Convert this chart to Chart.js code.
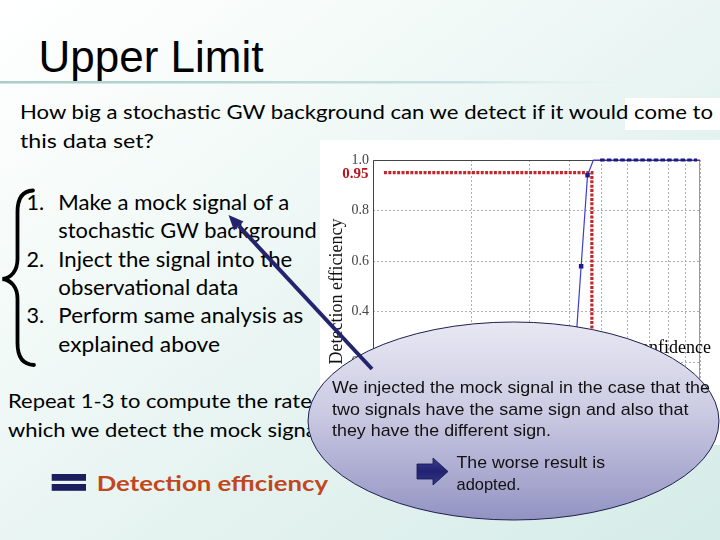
<!DOCTYPE html>
<html><head><meta charset="utf-8">
<script src="https://cdn.jsdelivr.net/npm/chart.js@4.4.1/dist/chart.umd.min.js"></script>
<style>
html,body{margin:0;padding:0;background:#fff;}
#slide{position:relative;width:720px;height:540px;overflow:hidden;}
#slide svg{position:absolute;left:0;top:0;}
#panel{position:absolute;left:320px;top:140px;width:400px;height:305px;background:#fff;}
#panel canvas{display:block;}
</style></head>
<body>
<div id="slide">
<svg id="bg" width="720" height="540">
 <defs>
  <linearGradient id="bgG" x1="0" y1="0" x2="1" y2="1">
   <stop offset="0" stop-color="#ffffff"/>
   <stop offset="0.3" stop-color="#f3faf8"/>
   <stop offset="0.65" stop-color="#e3f2ef"/>
   <stop offset="1" stop-color="#d5ece8"/>
  </linearGradient>
  <linearGradient id="ruleG" x1="0" y1="0" x2="1" y2="0">
   <stop offset="0" stop-color="#a9cdc9"/>
   <stop offset="0.75" stop-color="#c6e1dd"/>
   <stop offset="1" stop-color="#e0f0ed" stop-opacity="0.2"/>
  </linearGradient>
 </defs>
 <rect width="720" height="540" fill="url(#bgG)"/>
 <text x="38.5" y="71.5" font-family="'Liberation Sans',Arial,sans-serif" font-size="44" fill="#000">Upper Limit</text>
 <rect x="0" y="81" width="615" height="2.5" fill="url(#ruleG)"/>
 <rect x="625" y="98" width="95" height="32" fill="#fff"/>
 <g font-family="Lato,'Open Sans',sans-serif" fill="#000">
  <text x="20" y="118.7" font-size="18.5" textLength="693" lengthAdjust="spacingAndGlyphs">How big a stochastic GW background can we detect if it would come to</text>
  <text x="20" y="148" font-size="18.5" textLength="134" lengthAdjust="spacingAndGlyphs">this data set?</text>

  <text x="26.5" y="210" font-size="21.6">1.</text>
  <text x="58.3" y="210" font-size="21.6" textLength="231" lengthAdjust="spacingAndGlyphs">Make a mock signal of a</text>
  <text x="58.3" y="238.3" font-size="21.6" textLength="258.4" lengthAdjust="spacingAndGlyphs">stochastic GW background</text>
  <text x="26.5" y="266.7" font-size="21.6">2.</text>
  <text x="58.3" y="266.7" font-size="21.6" textLength="234" lengthAdjust="spacingAndGlyphs">Inject the signal into the</text>
  <text x="58.3" y="295" font-size="21.6" textLength="180" lengthAdjust="spacingAndGlyphs">observational data</text>
  <text x="26.5" y="323.3" font-size="21.6">3.</text>
  <text x="58.3" y="323.3" font-size="21.6" textLength="245" lengthAdjust="spacingAndGlyphs">Perform same analysis as</text>
  <text x="58.3" y="351.7" font-size="21.6" textLength="161.7" lengthAdjust="spacingAndGlyphs">explained above</text>

  <g id="repeatG">
   <text id="repeat1" x="0" y="408" font-size="18.8">Repeat 1-3 to compute the rate at</text>
   <text id="repeat2" x="0" y="437" font-size="18.8">which we detect the mock signal.</text>
  </g>
  <text x="96.7" y="490.7" font-size="20.8" font-weight="bold" fill="#c2461e" textLength="231.3" lengthAdjust="spacingAndGlyphs">Detection efficiency</text>
 </g>
 <path d="M 33 190.5 C 22 191, 17.5 199, 17.5 212 L 17.5 259 C 17.5 271, 11 278, 2.5 279 C 11 280, 17.5 287, 17.5 299 L 17.5 343 C 17.5 356, 22 364.5, 34 365" fill="none" stroke="#000" stroke-width="3.8" stroke-linecap="round"/>
 <rect x="51.7" y="474" width="34.3" height="6.8" fill="#1c1f5e"/>
 <rect x="51.7" y="484" width="34.3" height="6.8" fill="#1c1f5e"/>
</svg>

<div id="panel"><canvas id="c" width="400" height="305" style="width:400px;height:305px"></canvas></div>

<svg id="fg" width="720" height="540">
 <defs>
  <linearGradient id="ellG" x1="0" y1="0" x2="0" y2="1">
   <stop offset="0" stop-color="#e8e8f3"/>
   <stop offset="0.45" stop-color="#cbcbe3"/>
   <stop offset="1" stop-color="#9393c3"/>
  </linearGradient>
  <linearGradient id="blkG" x1="0" y1="0" x2="0" y2="1">
   <stop offset="0" stop-color="#3a3a96"/>
   <stop offset="0.5" stop-color="#222270"/>
   <stop offset="1" stop-color="#35358e"/>
  </linearGradient>
 </defs>
 <text x="711" y="353.3" text-anchor="end" font-family="'Liberation Serif',serif" font-size="18" fill="#000">95% confidence</text>
 <ellipse cx="513.5" cy="421" rx="205.5" ry="99" fill="url(#ellG)" stroke="#1e1e50" stroke-width="1"/>
 <line x1="372" y1="369" x2="238.8" y2="225.9" stroke="#24246e" stroke-width="4"/>
 <polygon points="228.5,215 243.5,221.5 234,230.4" fill="#24246e"/>
 <g font-family="'Liberation Sans',Arial,sans-serif" font-size="17" fill="#111">
  <text x="332" y="392.6" textLength="378" lengthAdjust="spacingAndGlyphs">We injected the mock signal in the case that the</text>
  <text x="332" y="414.6" textLength="356.5" lengthAdjust="spacingAndGlyphs">two signals have the same sign and also that</text>
  <text x="332" y="435.5" textLength="219" lengthAdjust="spacingAndGlyphs">they have the different sign.</text>
  <text x="456.5" y="468.3" textLength="148.5" lengthAdjust="spacingAndGlyphs">The worse result is</text>
  <text x="456.5" y="490" textLength="64" lengthAdjust="spacingAndGlyphs">adopted.</text>
 </g>
 <polygon points="417,464 433,464 433,458 448,471.5 433,485 433,479 417,479" fill="url(#blkG)" stroke="#15154a" stroke-width="0.8"/>
</svg>
</div>

<script>
// ---- data ----
const amplitude  = [1.0, 1.5, 2.0, 2.5, 3.0, 3.5, 3.9, 4.13, 4.33, 4.53, 4.72, 5.0, 6.0, 7.0, 8.0, 9.0, 10.0];
const efficiency = [0.0, 0.0, 0.0, 0.0, 0.0, 0.01, 0.05, 0.20, 0.58, 0.94, 1.0, 1.0, 1.0, 1.0, 1.0, 1.0, 1.0];
const limitAmp   = [1.08, 4.67, 4.67];
const limitEff   = [0.95, 0.95, 0.0];
const plateauAmp = [4.95, 9.8];
const plateauEff = [1.0, 1.0];
const xTicks = [1, 2, 3, 4, 5, 6, 7, 8, 9, 10];
const yTicks = [0.0, 0.2, 0.4, 0.6, 0.8, 1.0];
const confidenceLevel = 0.95;
const yTitle = 'Detection efficiency';

// fit the "Repeat" lines (partly hidden behind the ellipse)
(function(){
  const g = document.getElementById('repeatG');
  const probe = document.createElementNS('http://www.w3.org/2000/svg','text');
  probe.setAttribute('font-size','18.8');
  probe.textContent = 'Repeat 1-3 to compute the rate';
  g.appendChild(probe);
  const w = probe.getComputedTextLength();
  g.removeChild(probe);
  const k = w > 0 ? 303.7 / w : 1;
  g.setAttribute('transform', 'translate(8,0) scale(' + k + ',1)');
})();

const zip = (a, b) => a.map((x, i) => ({x: x, y: b[i]}));

const deco = {
  id: 'deco',
  beforeDatasetsDraw(chart) {
    const {ctx, chartArea: a} = chart;
    ctx.save();
    ctx.lineWidth = 1;
    ctx.strokeStyle = '#9a9a9a';
    ctx.beginPath();
    ctx.moveTo(a.right - 0.5, a.top); ctx.lineTo(a.right - 0.5, a.bottom - 0.5); ctx.lineTo(a.left, a.bottom - 0.5);
    ctx.stroke();
    ctx.strokeStyle = '#444';
    ctx.beginPath();
    ctx.moveTo(a.left + 0.5, a.bottom); ctx.lineTo(a.left + 0.5, a.top + 0.5); ctx.lineTo(a.right, a.top + 0.5);
    ctx.stroke();
    ctx.restore();
  },
  afterDraw(chart) {
    const {ctx, chartArea: a, scales} = chart;
    ctx.save();
    ctx.fillStyle = '#b8161c';
    ctx.font = 'bold 15px "Liberation Serif", serif';
    ctx.textAlign = 'right';
    ctx.textBaseline = 'middle';
    ctx.fillText(confidenceLevel.toFixed(2), a.left - 4.5, scales.y.getPixelForValue(confidenceLevel) + 1);
    // axis title
    ctx.fillStyle = '#111';
    ctx.font = '18px "Liberation Serif", serif';
    ctx.textAlign = 'center';
    ctx.translate(a.left - 36, (a.top + a.bottom) / 2 + 5);
    ctx.rotate(-Math.PI / 2);
    ctx.fillText(yTitle, 0, 0);
    ctx.restore();
  }
};

const gridOpts = {color: '#b0b0b0', lineWidth: 1, drawTicks: false};

new Chart(document.getElementById('c'), {
  type: 'line',
  data: {
    datasets: [
      {label: '95% upper limit', data: zip(limitAmp, limitEff), borderColor: '#c1272d', borderWidth: 3.2,
       borderDash: [3, 1.4], pointRadius: 0, fill: false, tension: 0, clip: false, order: 3},
      {label: 'Detection efficiency', data: zip(amplitude, efficiency), borderColor: '#3c3cd0', borderWidth: 1.2,
       pointStyle: 'rect', pointRadius: c => (c.raw && c.raw.y > 0.3 && c.raw.y < 1) ? 3.2 : 0,
       pointBackgroundColor: '#1c1c8c', pointBorderColor: '#1c1c8c', pointBorderWidth: 0,
       fill: false, tension: 0, clip: false, order: 2},
      {label: 'plateau', data: zip(plateauAmp, plateauEff), borderColor: '#1a1a7e', borderWidth: 3,
       borderDash: [4.5, 2.2], pointRadius: 0, fill: false, clip: false, order: 1}
    ]
  },
  options: {
    responsive: false,
    animation: false,
    devicePixelRatio: 1,
    layout: {padding: {top: 20, right: 20, left: 0, bottom: 0}},
    plugins: {legend: {display: false}, tooltip: {enabled: false}},
    scales: {
      x: {
        type: 'logarithmic', min: 1, max: 10, position: 'bottom',
        afterBuildTicks: s => { s.ticks = xTicks.map(v => ({value: v})); },
        afterFit: s => { s.height = 32; },
        grid: gridOpts,
        border: {display: false, dash: [2, 2]},
        ticks: {font: {family: 'Liberation Serif', size: 13}, color: '#444', padding: 5, autoSkip: false,
                maxRotation: 0, callback: v => String(v)}
      },
      y: {
        type: 'linear', min: 0, max: 1,
        afterBuildTicks: s => { s.ticks = yTicks.map(v => ({value: v})); },
        afterFit: s => { s.width = 53; },
        grid: gridOpts,
        border: {display: false, dash: [2, 2]},
        ticks: {font: {family: 'Liberation Serif', size: 14}, color: '#444', padding: 4,
                callback: v => Number(v).toFixed(1)},
        title: {display: false}
      }
    }
  },
  plugins: [deco]
});
</script>
</body></html>
